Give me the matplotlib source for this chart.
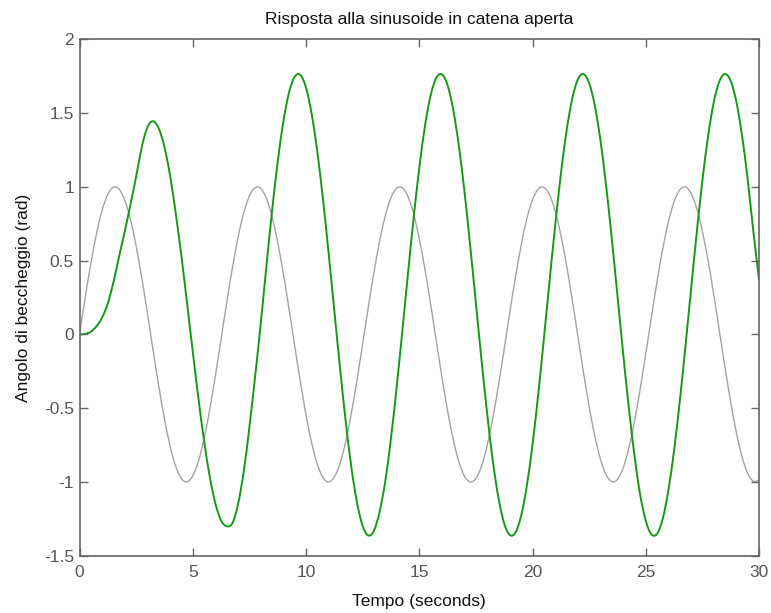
import matplotlib
matplotlib.use("Agg")
import matplotlib.pyplot as plt
from matplotlib.path import Path
from matplotlib.patches import PathPatch
from matplotlib.ticker import FixedLocator, FixedFormatter

plt.rcParams['font.family'] = ['Liberation Sans', 'DejaVu Sans']

# Time base (s), sampled every 0.25 s from 0 to 30
t_step = 0.25
n_samples = 121
tempo = [i * t_step for i in range(n_samples)]

# Input sinusoid (rad)
ingresso = [
    0.0000, 0.2474, 0.4794, 0.6816, 0.8415, 0.9490, 0.9975, 0.9840, 0.9093, 0.7781,
    0.5985, 0.3817, 0.1411, -0.1082, -0.3508, -0.5716, -0.7568, -0.8950, -0.9775, -0.9993,
    -0.9589, -0.8589, -0.7055, -0.5083, -0.2794, -0.0332, 0.2151, 0.4500, 0.6570, 0.8231,
    0.9380, 0.9945, 0.9894, 0.9221, 0.7985, 0.6247, 0.4121, 0.1730, -0.0752, -0.3195,
    -0.5440, -0.7362, -0.8797, -0.9705, -1.0000, -0.9668, -0.8755, -0.7291, -0.5366, -0.3111,
    -0.0663, 0.1826, 0.4202, 0.6317, 0.8038, 0.9260, 0.9906, 0.9936, 0.9349, 0.8180,
    0.6503, 0.4421, 0.2057, -0.0420, -0.2879, -0.5160, -0.7118, -0.8636, -0.9614, -0.9995,
    -0.9766, -0.8921, -0.7510, -0.5648, -0.3429, -0.0996, 0.1499, 0.3898, 0.6055, 0.7838,
    0.9129, 0.9856, 0.9968, 0.9462, 0.8367, 0.6750, 0.4715, 0.2382, -0.0089, -0.2558,
    -0.4872, -0.6877, -0.8462, -0.9516, -0.9978, -0.9831, -0.9056, -0.7723, -0.5913, -0.3737,
    -0.1324, 0.1170, 0.3591, 0.5787, 0.7626, 0.8987, 0.9794, 0.9989, 0.9564, 0.8546,
    0.7000, 0.5012, 0.2709, 0.0243, -0.2236, -0.4584, -0.6636, -0.8282, -0.9410, -0.9956,
    -0.9880,
]

# Open-loop pitch angle response (rad)
beccheggio = [
    0.000, 0.003, 0.018, 0.055, 0.115, 0.210, 0.355, 0.530, 0.700, 0.880,
    1.070, 1.270, 1.405, 1.445, 1.395, 1.270, 1.075, 0.820, 0.530, 0.210,
    -0.116, -0.433, -0.721, -0.964, -1.146, -1.261, -1.300, -1.280, -1.150, -0.930,
    -0.630, -0.290, 0.070, 0.460, 0.834, 1.168, 1.442, 1.639, 1.746, 1.758,
    1.672, 1.494, 1.237, 0.916, 0.549, 0.161, -0.225, -0.585, -0.898, -1.138,
    -1.297, -1.363, -1.330, -1.202, -0.995, -0.706, -0.360, 0.018, 0.408, 0.786,
    1.126, 1.410, 1.618, 1.738, 1.762, 1.689, 1.523, 1.277, 0.963, 0.598,
    0.213, -0.175, -0.539, -0.860, -1.111, -1.281, -1.360, -1.342, -1.228, -1.026,
    -0.747, -0.410, -0.033, 0.357, 0.737, 1.084, 1.376, 1.595, 1.727, 1.764,
    1.704, 1.551, 1.314, 1.008, 0.649, 0.264, -0.125, -0.493, -0.820, -1.083,
    -1.263, -1.355, -1.351, -1.249, -1.056, -0.787, -0.456, -0.085, 0.305, 0.688,
    1.041, 1.341, 1.571, 1.715, 1.765, 1.718, 1.577, 1.349, 1.050, 0.699,
    0.370,
]

x_ticks = [0, 5, 10, 15, 20, 25, 30]
x_labels = ['0', '5', '10', '15', '20', '25', '30']
y_ticks = [-1.5, -1.0, -0.5, 0.0, 0.5, 1.0, 1.5, 2.0]
y_labels = ['-1.5', '-1', '-0.5', '0', '0.5', '1', '1.5', '2']

titolo = 'Risposta alla sinusoide in catena aperta'
etichetta_x = 'Tempo (seconds)'
etichetta_y = 'Angolo di beccheggio (rad)'


def curva_liscia(ax, xs, ys, **kw):
    """Draw a smooth cubic (Catmull-Rom) path through the samples."""
    n = len(xs)
    verts = [(xs[0], ys[0])]
    codes = [Path.MOVETO]
    for i in range(n - 1):
        i0 = max(i - 1, 0)
        i3 = min(i + 2, n - 1)
        c1 = (xs[i] + (xs[i + 1] - xs[i0]) / 6.0, ys[i] + (ys[i + 1] - ys[i0]) / 6.0)
        c2 = (xs[i + 1] - (xs[i3] - xs[i]) / 6.0, ys[i + 1] - (ys[i3] - ys[i]) / 6.0)
        verts += [c1, c2, (xs[i + 1], ys[i + 1])]
        codes += [Path.CURVE4, Path.CURVE4, Path.CURVE4]
    patch = PathPatch(Path(verts, codes), fill=False, **kw)
    ax.add_patch(patch)
    return patch


W, H = 771, 613
fig = plt.figure(figsize=(W / 100, H / 100), dpi=100)
fig.patch.set_facecolor('white')
ax = fig.add_axes([79.5 / W, (H - 555.7) / H, (759 - 79.5) / W, (555.7 - 39.3) / H])

curva_liscia(ax, tempo, ingresso, edgecolor='#a3a3a3', lw=1.0, joinstyle='round')
curva_liscia(ax, tempo, beccheggio, edgecolor='#159a15', lw=1.4, joinstyle='round')

ax.set_xlim(0, 30)
ax.set_ylim(-1.5, 2)
ax.xaxis.set_major_locator(FixedLocator(x_ticks))
ax.xaxis.set_major_formatter(FixedFormatter(x_labels))
ax.yaxis.set_major_locator(FixedLocator(y_ticks))
ax.yaxis.set_major_formatter(FixedFormatter(y_labels))

spine_col = '#666666'
for s in ax.spines.values():
    s.set_color(spine_col)
    s.set_linewidth(1.2)

ax.tick_params(direction='in', length=6, width=1.0, color=spine_col,
               top=True, right=True, labelsize=12.5, labelcolor='#555555')
ax.tick_params(axis='x', pad=7)
ax.tick_params(axis='y', pad=4)

ax.set_title(titolo, fontsize=12.5, color='#111111', pad=11)
ax.set_xlabel(etichetta_x, fontsize=12.5, color='#111111', labelpad=10)
ax.set_ylabel(etichetta_y, fontsize=12.5, color='#111111', labelpad=9)

fig.savefig('out.png', dpi=100, facecolor='white')
